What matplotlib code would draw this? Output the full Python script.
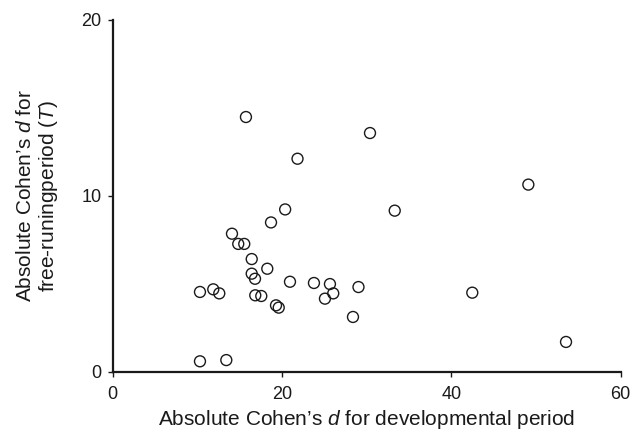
import matplotlib
matplotlib.use("Agg")
import matplotlib.pyplot as plt

plt.rcParams["font.family"] = "Liberation Sans"
plt.rcParams["mathtext.fontset"] = "custom"
plt.rcParams["mathtext.rm"] = "Liberation Sans"
plt.rcParams["mathtext.it"] = "Liberation Sans:italic"

# Absolute Cohen's d: developmental period (x) vs free-running period (y)
dev_period = [15.74, 21.83, 20.37, 18.70, 14.09, 14.83, 15.54, 16.42,
              18.26, 16.42, 16.81, 20.94, 23.77, 25.66, 26.05, 25.07,
              29.03, 10.31, 11.88, 12.59, 16.84, 17.55, 19.29, 19.61,
              10.31, 13.42, 30.39, 33.31, 49.09, 28.38, 42.47, 53.54]
free_running = [14.47, 12.10, 9.22, 8.48, 7.84, 7.26, 7.26, 6.40,
                5.85, 5.57, 5.28, 5.11, 5.04, 4.98, 4.45, 4.15,
                4.81, 4.53, 4.68, 4.45, 4.34, 4.30, 3.77, 3.64,
                0.59, 0.66, 13.56, 9.15, 10.63, 3.11, 4.49, 1.69]

x_ticks = [0, 20, 40, 60]
y_ticks = [0, 10, 20]

fig = plt.figure(figsize=(6.33, 4.32), dpi=100)
ax = fig.add_axes([0.178, 0.1396, 0.8026, 0.8148])

ax.scatter(dev_period, free_running, s=62, facecolors="none",
           edgecolors="#1a1a1a", linewidths=1.0, clip_on=False)

ax.set_xlim(0, 60)
ax.set_ylim(0, 20)
ax.set_xticks(x_ticks)
ax.set_yticks(y_ticks)

for side in ("top", "right"):
    ax.spines[side].set_visible(False)
for side in ("left", "bottom"):
    ax.spines[side].set_linewidth(1.6)
    ax.spines[side].set_color("#1a1a1a")

ax.tick_params(direction="out", length=3.6, width=1.0, colors="#1a1a1a",
               labelsize=13, pad=4.5)
ax.tick_params(axis="x", pad=6.5)

ax.set_xlabel("Absolute Cohen\u2019s $d$ for developmental period",
              fontsize=15, color="#1a1a1a", labelpad=4)
ax.set_ylabel("Absolute Cohen\u2019s $d$ for\nfree-runingperiod ($T$)",
              fontsize=15, color="#1a1a1a", labelpad=15,
              linespacing=1.15)

fig.savefig("out.png", dpi=100)
